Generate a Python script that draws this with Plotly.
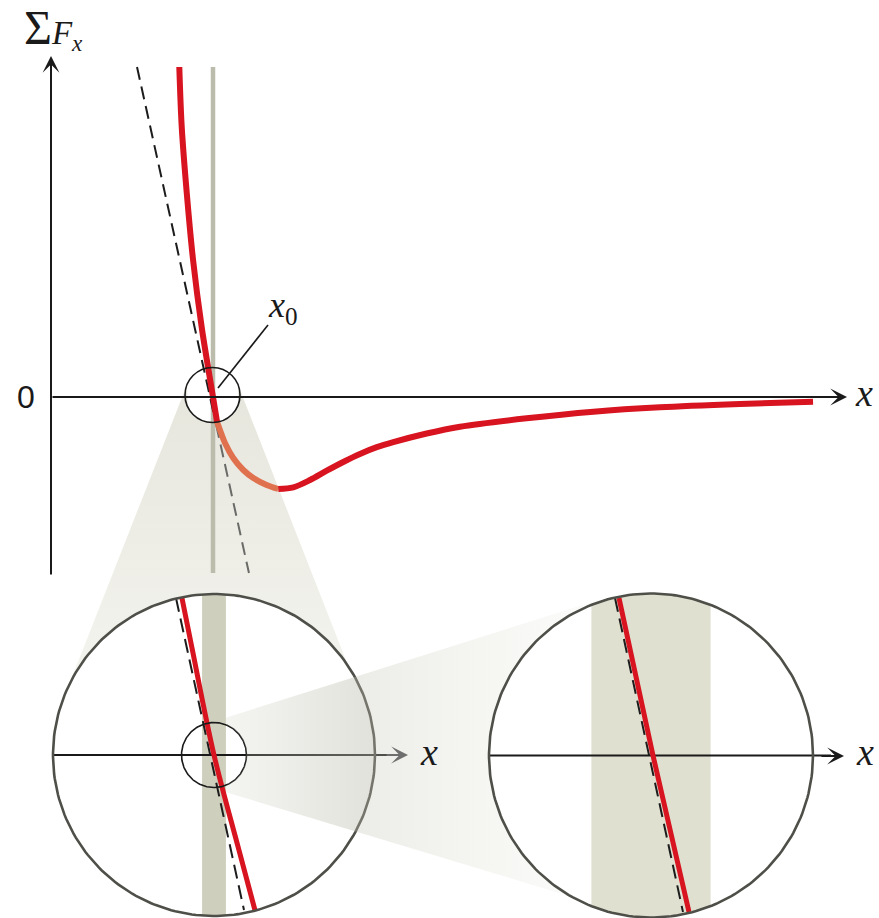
import numpy as np
import plotly.graph_objects as go

# ---------------------------------------------------------------
# Net force on a particle near a stable equilibrium point x0
# x : separation (x0 = 1), F : net force (arbitrary units)
# ---------------------------------------------------------------
x0 = 1.0
band_half = 0.0128          # half-width of the x0 band

# main curve, split into: steep part, part inside the shaded cone, long tail
curve_x = [0.792, 0.807, 0.838, 0.877, 0.930, 1.000, 1.025]
curve_F = [3.30, 2.70, 2.04, 1.37, 0.70, 0.00, -0.25]
cone_x = [1.025, 1.043, 1.074, 1.125, 1.187, 1.249, 1.331, 1.403]
cone_F = [-0.25, -0.33, -0.46, -0.61, -0.73, -0.81, -0.88, -0.92]
tail_x = [1.403, 1.496, 1.599, 1.702, 1.804, 1.907, 2.011, 2.113, 2.319,
          2.525, 2.936, 3.348, 3.759, 4.253, 4.704]
tail_F = [-0.920, -0.903, -0.830, -0.737, -0.650, -0.570, -0.502, -0.451, -0.365,
          -0.297, -0.213, -0.147, -0.103, -0.070, -0.047]

# tangent line at x0
tangent_x = [0.531, 1.222]
tangent_F = [3.30, -1.76]
line_F = [3.30, -1.76]       # extent of the x0 marker line

# first magnification (about 5.75x)
zoom1_x = [0.9656, 0.9761, 1.0000, 1.0258, 1.0440]
zoom1_F = [0.2730, 0.1883, 0.0000, -0.1595, -0.2700]
zoom1_tan_x = [0.9592, 1.0322]
zoom1_tan_F = [0.2730, -0.2696]

# second magnification (about 29x)
zoom2_x = [0.99313, 1.00043, 1.00816]
zoom2_F = [0.05478, 0.0, -0.05443]
zoom2_tan_x = [0.99227, 1.00687]
zoom2_tan_F = [0.05478, -0.05443]

# ---------------------------------------------------------------
W, H = 879, 918
RED = "#d7141f"
ORANGE = "#e0714f"
OUTLINE = "#4f4f49"
INK = "#1a1a1a"


def dom_x(a, b):
    return [a / W, b / W]


def dom_y(top, bottom):
    return [1 - bottom / H, 1 - top / H]


def ellipse(cx, cy, rx, ry, a0=0.0, a1=2 * np.pi, n=240):
    t = np.linspace(a0, a1, n)
    return cx + rx * np.cos(t), cy + ry * np.sin(t)


def band_in_circle(lo, hi, cx, cy, rx, ry, n=60):
    xs = np.linspace(lo, hi, n)
    h = ry * np.sqrt(np.clip(1 - ((xs - cx) / rx) ** 2, 0, None))
    return (np.concatenate([xs, xs[::-1]]),
            np.concatenate([cy + h, (cy - h)[::-1]]))


def hit_circle(p, d, c, r):
    """first forward intersection of ray p + t d with circle (c, r)"""
    p, d, c = np.asarray(p, float), np.asarray(d, float), np.asarray(c, float)
    d = d / np.hypot(*d)
    m = p - c
    b = np.dot(d, m)
    t = -b + np.sqrt(b * b - (np.dot(m, m) - r * r))
    return p + t * d


def arc(c, r, a0, a1, n=50):
    t = np.radians(np.linspace(a0, a1, n))
    return list(c[0] + r * np.cos(t)), list(c[1] + r * np.sin(t))


def poly(fig, xs, ys, xa, ya, **fill):
    fig.add_trace(go.Scatter(x=xs, y=ys, xaxis=xa, yaxis=ya, mode="lines",
                             line=dict(width=0), fill="toself",
                             hoverinfo="skip", showlegend=False, **fill))


fig = go.Figure()

# ---------- layer 1: cone from the x0 circle down to the first lens ----------
c_small = (212.5, 395.0, 27.5)
c1 = (213.0, 755.0, 161.0)
axs, ays = arc(c_small, c_small[2], 158.0, 22.0, 40)
cone1_x = [187.0] + axs + [238.0, 360.0, 213.0, 65.0, 187.0]
cone1_y = [384.7] + ays + [384.8, 696.0, 755.0, 695.0, 384.7]
poly(fig, cone1_x, cone1_y, "x", "y",
     fillgradient=dict(type="vertical", start=390, stop=700,
                       colorscale=[[0, "rgb(230,230,221)"], [1, "rgb(245,245,240)"]]))
cx1, cy1 = ellipse(c1[0], c1[1], c1[2], c1[2])
poly(fig, cx1, cy1, "x", "y", fillcolor="white")

# ---------- layer 2: main force plot ----------
split_F = -0.28
split_x = float(np.interp(-split_F, [-v for v in tangent_F], tangent_x))
fig.add_trace(go.Scatter(x=[x0, x0], y=line_F, xaxis="x2", yaxis="y2", mode="lines",
                         line=dict(color="#bcbcac", width=4.5),
                         hoverinfo="skip", showlegend=False))
fig.add_trace(go.Scatter(x=[tangent_x[0], split_x], y=[tangent_F[0], split_F],
                         xaxis="x2", yaxis="y2", mode="lines",
                         line=dict(color="#1c1c1c", width=2, dash="13px,7px"),
                         hoverinfo="skip", showlegend=False))
fig.add_trace(go.Scatter(x=[split_x, tangent_x[1]], y=[split_F, tangent_F[1]],
                         xaxis="x2", yaxis="y2", mode="lines",
                         line=dict(color="#6a6a68", width=2, dash="13px,7px"),
                         hoverinfo="skip", showlegend=False))
for xs, fs, col in [(curve_x, curve_F, RED), (cone_x, cone_F, ORANGE), (tail_x, tail_F, RED)]:
    fig.add_trace(go.Scatter(x=xs, y=fs, xaxis="x2", yaxis="y2", mode="lines",
                             line=dict(color=col, width=6, shape="spline", smoothing=0.9),
                             hoverinfo="skip", showlegend=False))

# ---------- layer 3: first magnified view ----------
m1 = 162 * 5.75   # px per x-unit
n1 = 100 * 5.75   # px per F-unit
rx1, ry1 = 161 / m1, 161 / n1
bx, by = band_in_circle(x0 - band_half, x0 + band_half, x0, 0, rx1, ry1)
poly(fig, bx, by, "x3", "y3", fillcolor="#cfcfbd")
fig.add_trace(go.Scatter(x=[x0 - rx1, x0 + 184 / m1], y=[0, 0], xaxis="x3", yaxis="y3",
                         mode="lines", line=dict(color=INK, width=2),
                         hoverinfo="skip", showlegend=False))
fig.add_trace(go.Scatter(x=zoom1_tan_x, y=zoom1_tan_F, xaxis="x3", yaxis="y3", mode="lines",
                         line=dict(color="#1c1c1c", width=2, dash="14px,7px"),
                         hoverinfo="skip", showlegend=False))
fig.add_trace(go.Scatter(x=zoom1_x, y=zoom1_F, xaxis="x3", yaxis="y3", mode="lines",
                         line=dict(color=RED, width=5, shape="spline"),
                         hoverinfo="skip", showlegend=False))
sx, sy = ellipse(x0, 0, 32.5 / m1, 32.5 / n1)
fig.add_trace(go.Scatter(x=sx, y=sy, xaxis="x3", yaxis="y3", mode="lines",
                         line=dict(color=INK, width=1.6),
                         hoverinfo="skip", showlegend=False))
ox, oy = ellipse(x0, 0, rx1, ry1)
fig.add_trace(go.Scatter(x=ox, y=oy, xaxis="x3", yaxis="y3", mode="lines",
                         line=dict(color=OUTLINE, width=2.6),
                         hoverinfo="skip", showlegend=False))

# ---------- layer 4: cone from the inner circle to the second lens ----------
cs = (214.0, 755.0, 32.5)
c2 = (651.0, 755.5, 162.0)
p_up, d_up = (225.0, 718.0), (0.9535, -0.3013)
p_lo, d_lo = (225.0, 792.0), (0.9574, 0.2891)
left_x = 226.0
y_up0 = p_up[1] + (left_x - p_up[0]) * d_up[1] / d_up[0]
y_lo0 = p_lo[1] + (left_x - p_lo[0]) * d_lo[1] / d_lo[0]
h_s = np.sqrt(cs[2] ** 2 - (left_x - cs[0]) ** 2)
a_s = np.degrees(np.arctan2(h_s, left_x - cs[0]))
sax, say = arc(cs, cs[2], a_s, -a_s, 40)            # right side of the inner circle
q_up = hit_circle(p_up, d_up, c1[:2], c1[2])         # where the cone leaves lens 1
q_lo = hit_circle(p_lo, d_lo, c1[:2], c1[2])
a_up = np.degrees(np.arctan2(q_up[1] - c1[1], q_up[0] - c1[0]))
a_lo = np.degrees(np.arctan2(q_lo[1] - c1[1], q_lo[0] - c1[0]))
l1x, l1y = arc(c1[:2], c1[2], a_up, a_lo, 40)       # rim of lens 1 inside the cone

# part of the cone lying over lens 1
in_x = [left_x, q_up[0]] + l1x + [q_lo[0], left_x, left_x] + sax + [left_x, left_x]
in_y = [y_up0, q_up[1]] + l1y + [q_lo[1], y_lo0, cs[1] + h_s] + say + [cs[1] - h_s, y_up0]
poly(fig, in_x, in_y, "x4", "y4",
     fillgradient=dict(type="horizontal", start=left_x, stop=374,
                       colorscale=[[0, "rgba(200,200,186,0.20)"],
                                   [1, "rgba(190,190,176,0.45)"]]))
# part of the cone between the lenses
out_x = [q_up[0], 601.5, 651.0, 605.4, q_lo[0]] + l1x[::-1]
out_y = [q_up[1], 599.0, 755.5, 906.9, q_lo[1]] + l1y[::-1]
poly(fig, out_x, out_y, "x4", "y4",
     fillgradient=dict(type="horizontal", start=354, stop=600,
                       colorscale=[[0, "rgba(196,196,182,0.33)"],
                                   [1, "rgba(220,220,206,0.10)"]]))
cx2, cy2 = ellipse(c2[0], c2[1], c2[2], c2[2])
poly(fig, cx2, cy2, "x4", "y4", fillcolor="white")

# ---------- layer 5: second magnified view ----------
m2 = 162 * 28.75
n2 = 100 * 28.75
rx2, ry2 = 162 / m2, 162 / n2
bx2, by2 = band_in_circle(x0 - band_half, x0 + band_half, x0, 0, rx2, ry2)
poly(fig, bx2, by2, "x5", "y5", fillcolor="#e0e0d0")
fig.add_trace(go.Scatter(x=[x0 - rx2, x0 + 180 / m2], y=[0, 0], xaxis="x5", yaxis="y5",
                         mode="lines", line=dict(color=INK, width=2),
                         hoverinfo="skip", showlegend=False))
fig.add_trace(go.Scatter(x=zoom2_tan_x, y=zoom2_tan_F, xaxis="x5", yaxis="y5", mode="lines",
                         line=dict(color="#1c1c1c", width=2, dash="14px,7px"),
                         hoverinfo="skip", showlegend=False))
fig.add_trace(go.Scatter(x=zoom2_x, y=zoom2_F, xaxis="x5", yaxis="y5", mode="lines",
                         line=dict(color=RED, width=5),
                         hoverinfo="skip", showlegend=False))
ox2, oy2 = ellipse(x0, 0, rx2, ry2)
fig.add_trace(go.Scatter(x=ox2, y=oy2, xaxis="x5", yaxis="y5", mode="lines",
                         line=dict(color=OUTLINE, width=2.6),
                         hoverinfo="skip", showlegend=False))

# ---------- axes ----------
hidden = dict(visible=False, showgrid=False, zeroline=False, fixedrange=True)
layout_axes = dict(
    xaxis=dict(domain=[0, 1], range=[0, W], anchor="y", **hidden),
    yaxis=dict(domain=[0, 1], range=[H, 0], anchor="x", **hidden),
    xaxis2=dict(domain=[0, 1], range=[(0 - 51) / 162, (W - 51) / 162], anchor="y2", **hidden),
    yaxis2=dict(domain=[0, 1], range=[(397 - H) / 100, 397 / 100], anchor="x2", **hidden),
    xaxis3=dict(domain=dom_x(44, 416), range=[x0 + (44 - 214) / m1, x0 + (416 - 214) / m1],
                anchor="y3", **hidden),
    yaxis3=dict(domain=dom_y(586, H), range=[(755 - H) / n1, (755 - 586) / n1],
                anchor="x3", **hidden),
    xaxis4=dict(domain=[0, 1], range=[0, W], anchor="y4", **hidden),
    yaxis4=dict(domain=[0, 1], range=[H, 0], anchor="x4", **hidden),
    xaxis5=dict(domain=dom_x(480, 852), range=[x0 + (480 - 651) / m2, x0 + (852 - 651) / m2],
                anchor="y5", **hidden),
    yaxis5=dict(domain=dom_y(586, H), range=[(755.5 - H) / n2, (755.5 - 586) / n2],
                anchor="x5", **hidden),
)


def arrow(x1, y1, x2, y2, color=INK):
    return dict(x=x2, y=y2, ax=x1, ay=y1, xref="x", yref="y", axref="x", ayref="y",
                text="", showarrow=True, arrowhead=3, arrowsize=1.4, arrowwidth=2,
                arrowcolor=color, standoff=0)


serif = "Liberation Serif"
annotations = [
    arrow(51, 576, 51, 56),
    arrow(51, 397, 847, 397),
    arrow(385, 755, 408, 755, color="#6e6e6e"),
    arrow(820, 756, 844, 756),
    dict(x=26, y=397, xref="x", yref="y", text="0", showarrow=False,
         font=dict(family="Liberation Sans", size=32, color=INK)),
    dict(x=864, y=393, xref="x", yref="y", text="<i>x</i>", showarrow=False,
         font=dict(family=serif, size=38, color=INK)),
    dict(x=429, y=752, xref="x", yref="y", text="<i>x</i>", showarrow=False,
         font=dict(family=serif, size=38, color=INK)),
    dict(x=865, y=752, xref="x", yref="y", text="<i>x</i>", showarrow=False,
         font=dict(family=serif, size=38, color=INK)),
    dict(x=283, y=307, xref="x", yref="y", text="<i>x</i><sub>0</sub>", showarrow=False,
         font=dict(family=serif, size=36, color=INK)),
    dict(x=53, y=28, xref="x", yref="y",
         text="<span style='font-size:48px'>Σ</span><i>F</i><sub><i>x</i></sub>",
         showarrow=False, font=dict(family=serif, size=33, color=INK)),
]

shapes = [
    dict(type="circle", xref="x", yref="y", x0=185, x1=240, y0=367.5, y1=422.5,
         line=dict(color=INK, width=1.6), layer="above"),
    dict(type="line", xref="x", yref="y", x0=218, y0=388, x1=268, y1=325,
         line=dict(color=INK, width=1.6), layer="above"),
]

fig.update_layout(
    width=W, height=H,
    margin=dict(l=0, r=0, t=0, b=0),
    paper_bgcolor="white", plot_bgcolor="rgba(0,0,0,0)",
    showlegend=False, annotations=annotations, shapes=shapes,
    **layout_axes,
)

fig.write_html("out.html", config=dict(displayModeBar=False, staticPlot=True))
